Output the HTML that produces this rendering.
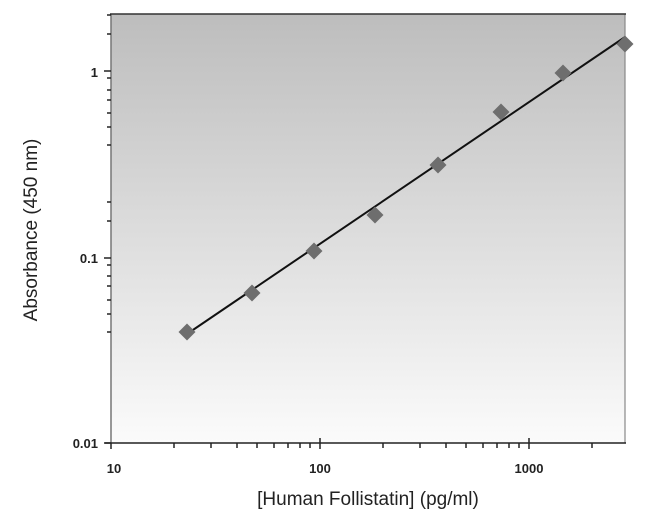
<!DOCTYPE html>
<html><head><style>body{margin:0;background:#fff;}svg{display:block}</style></head><body>
<svg width="650" height="523" xmlns="http://www.w3.org/2000/svg" font-family="Liberation Sans, sans-serif">
<defs><linearGradient id="g" x1="0" y1="0" x2="0" y2="1"><stop offset="0" stop-color="#bdbdbd"/><stop offset="1" stop-color="#fbfbfb"/></linearGradient></defs>
<rect x="111" y="14" width="514" height="429" fill="url(#g)"/>
<line x1="111" y1="14" x2="111" y2="443" stroke="#777" stroke-width="1.5"/>
<line x1="625" y1="14" x2="625" y2="443" stroke="#888" stroke-width="1.2"/>
<line x1="110" y1="14" x2="626" y2="14" stroke="#333" stroke-width="1.5"/>
<line x1="105" y1="443" x2="626" y2="443" stroke="#222" stroke-width="1.5"/>
<g stroke="#222" stroke-width="1.5">
<line x1="104" y1="443" x2="111" y2="443"/><line x1="104" y1="258" x2="111" y2="258"/><line x1="104" y1="71" x2="111" y2="71"/>
<line x1="107" y1="78" x2="111" y2="78"/><line x1="107" y1="90" x2="111" y2="90"/><line x1="107" y1="100" x2="111" y2="100"/><line x1="107" y1="113" x2="111" y2="113"/><line x1="107" y1="127" x2="111" y2="127"/><line x1="107" y1="145" x2="111" y2="145"/>
<line x1="107" y1="34" x2="111" y2="34"/><line x1="107" y1="15" x2="111" y2="15"/>
<line x1="107" y1="265" x2="111" y2="265"/><line x1="107" y1="276" x2="111" y2="276"/><line x1="107" y1="286" x2="111" y2="286"/><line x1="107" y1="300" x2="111" y2="300"/><line x1="107" y1="314" x2="111" y2="314"/><line x1="107" y1="332" x2="111" y2="332"/><line x1="107" y1="221" x2="111" y2="221"/><line x1="107" y1="202" x2="111" y2="202"/>
</g>
<g stroke="#222" stroke-width="1.5">
<line x1="111" y1="443" x2="111" y2="449"/><line x1="320" y1="438" x2="320" y2="449"/><line x1="529" y1="438" x2="529" y2="449"/>
<line x1="174" y1="443" x2="174" y2="448"/><line x1="211" y1="443" x2="211" y2="448"/><line x1="237" y1="443" x2="237" y2="448"/><line x1="257" y1="443" x2="257" y2="448"/><line x1="274" y1="443" x2="274" y2="448"/><line x1="288" y1="443" x2="288" y2="448"/><line x1="300" y1="443" x2="300" y2="448"/><line x1="310" y1="443" x2="310" y2="448"/>
<line x1="383" y1="443" x2="383" y2="448"/><line x1="420" y1="443" x2="420" y2="448"/><line x1="446" y1="443" x2="446" y2="448"/><line x1="466" y1="443" x2="466" y2="448"/><line x1="483" y1="443" x2="483" y2="448"/><line x1="497" y1="443" x2="497" y2="448"/><line x1="509" y1="443" x2="509" y2="448"/><line x1="519" y1="443" x2="519" y2="448"/>
<line x1="592" y1="443" x2="592" y2="448"/>
</g>
<g font-size="13" font-weight="bold" fill="#222" text-anchor="end">
<text x="98" y="77">1</text><text x="98" y="263">0.1</text><text x="98" y="448">0.01</text>
</g>
<g font-size="13" font-weight="bold" fill="#222" text-anchor="middle">
<text x="114" y="473">10</text><text x="320" y="473">100</text><text x="529" y="473">1000</text>
</g>
<text x="368" y="505" font-size="19" text-anchor="middle" fill="#222">[Human Follistatin] (pg/ml)</text>
<text transform="translate(37,230) rotate(-90)" font-size="19" text-anchor="middle" fill="#222">Absorbance (450 nm)</text>
<line x1="187" y1="334" x2="625" y2="37" stroke="#111" stroke-width="2"/>
<g fill="#6e6e6e">
<rect x="181" y="326" width="12" height="12" transform="rotate(45 187 332)"/>
<rect x="246" y="287" width="12" height="12" transform="rotate(45 252 293)"/>
<rect x="308" y="245" width="12" height="12" transform="rotate(45 314 251)"/>
<rect x="369" y="209" width="12" height="12" transform="rotate(45 375 215)"/>
<rect x="432" y="159" width="12" height="12" transform="rotate(45 438 165)"/>
<rect x="495" y="106" width="12" height="12" transform="rotate(45 501 112)"/>
<rect x="557" y="67" width="12" height="12" transform="rotate(45 563 73)"/>
<rect x="619" y="38" width="12" height="12" transform="rotate(45 625 44)"/>
</g>
</svg>
</body></html>
